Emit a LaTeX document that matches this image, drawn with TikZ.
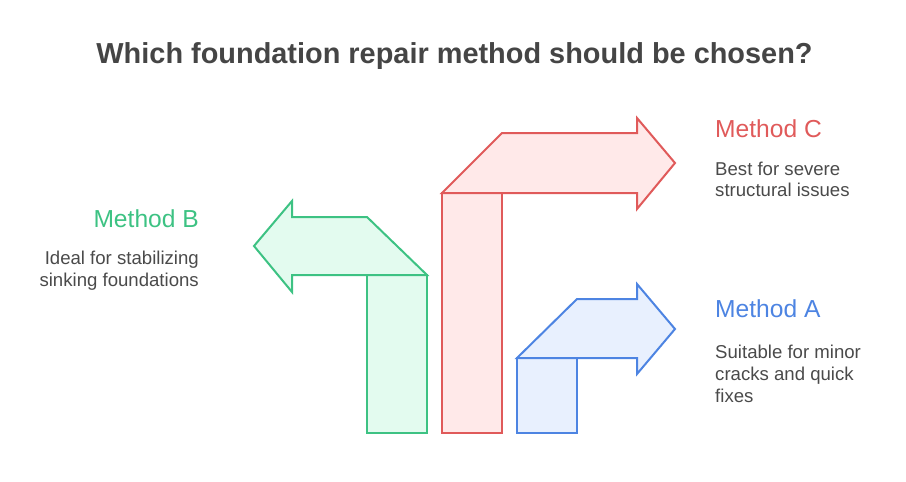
\documentclass[tikz,border=0pt]{standalone}
\usepackage{fontspec}
\setmainfont{Liberation Sans}
\definecolor{titlegray}{HTML}{454545}
\definecolor{textgray}{HTML}{4A4A4A}
\definecolor{gstroke}{HTML}{3DC283}
\definecolor{gfill}{HTML}{E3FBEF}
\definecolor{rstroke}{HTML}{E05A5A}
\definecolor{rfill}{HTML}{FFE9E9}
\definecolor{bstroke}{HTML}{4D84E2}
\definecolor{bfill}{HTML}{E8F0FE}
\tikzset{
  arrowshape/.style={line width=2pt, line join=miter},
  headlabel/.style={inner sep=0pt, font=\fontsize{24.6}{29}\selectfont},
  desc/.style={inner sep=0pt, text=textgray, font=\fontsize{18.6}{22}\selectfont},
}
\begin{document}
\begin{tikzpicture}[x=1pt,y=-1pt]
\useasboundingbox (0,0) rectangle (906,482);
\node[inner sep=0pt, anchor=base, text=titlegray, font=\bfseries\fontsize{28.9}{33}\selectfont] (title) at (454.5,63) {Which foundation repair method should be chosen?};

% Method B arrow (green)
\draw[arrowshape, draw=gstroke, fill=gfill] (367,275) rectangle (427,433);
\draw[arrowshape, draw=gstroke, fill=gfill] (254,246) -- (292,201) -- (292,217) -- (367,217) -- (427,275) -- (292,275) -- (292,292) -- cycle;
% Method C arrow (red)
\draw[arrowshape, draw=rstroke, fill=rfill] (442,193) rectangle (502,433);
\draw[arrowshape, draw=rstroke, fill=rfill] (442,193) -- (502,133) -- (637,133) -- (637,118) -- (675,163) -- (637,209) -- (637,193) -- cycle;
% Method A arrow (blue)
\draw[arrowshape, draw=bstroke, fill=bfill] (517,358) rectangle (577,433);
\draw[arrowshape, draw=bstroke, fill=bfill] (517,358) -- (577,299) -- (637,299) -- (637,284) -- (675,329) -- (637,374) -- (637,358) -- cycle;

% Method C text
\node[headlabel, anchor=base west, text=rstroke] (mc) at (715,137) {Method C};
\node[desc, anchor=base west] (mc1) at (715,175) {Best for severe};
\node[desc, anchor=base west] (mc2) at (715,196) {structural issues};

% Method A text
\node[headlabel, anchor=base west, text=bstroke] (ma) at (715,317) {Method A};
\node[desc, anchor=base west] (ma1) at (715,358) {Suitable for minor};
\node[desc, anchor=base west] (ma2) at (715,380) {cracks and quick};
\node[desc, anchor=base west] (ma3) at (715,402) {fixes};

% Method B text
\node[headlabel, anchor=base east, text=gstroke] (mb) at (199,227) {Method B};
\node[desc, anchor=base east] (mb1) at (199,264) {Ideal for stabilizing};
\node[desc, anchor=base east] (mb2) at (199,286) {sinking foundations};
\end{tikzpicture}
\end{document}
